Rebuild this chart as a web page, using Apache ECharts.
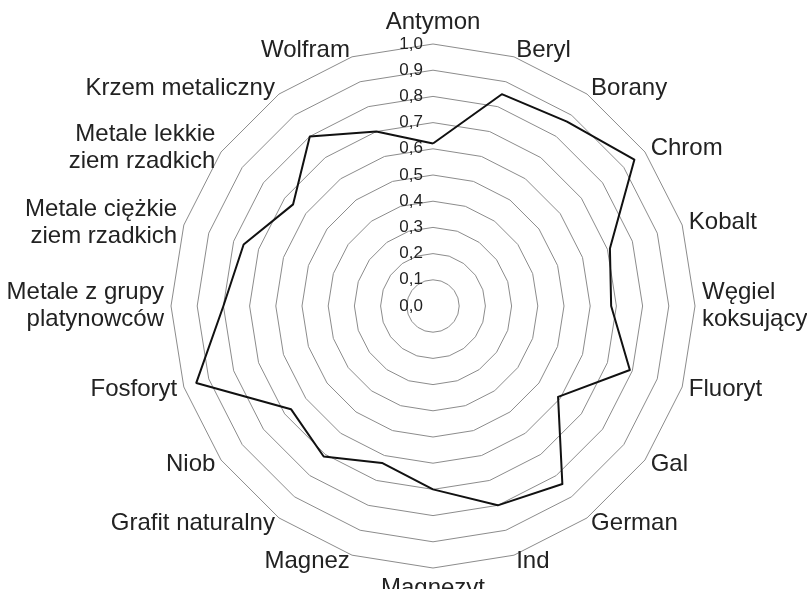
<!DOCTYPE html>
<html>
<head>
<meta charset="utf-8">
<script src="https://cdn.jsdelivr.net/npm/echarts@6/dist/echarts.min.js"></script>
<style>
  html, body { margin: 0; padding: 0; background: #fff; }
  #radar { width: 807px; height: 589px; }
</style>
</head>
<body>
<div id="radar"></div>
<script>
// kategorie w kolejnosci zgodnej z ruchem wskazowek zegara, od gory
var categories = [
    'Antymon', 'Beryl', 'Borany', 'Chrom', 'Kobalt',
    'Węgiel\nkoksujący', 'Fluoryt', 'Gal', 'German', 'Ind',
    'Magnezyt', 'Magnez', 'Grafit naturalny', 'Niob', 'Fosforyt',
    'Metale z grupy\nplatynowców', 'Metale ciężkie\nziem rzadkich',
    'Metale lekkie\nziem rzadkich', 'Krzem metaliczny', 'Wolfram'
];
var values = [
    0.62, 0.85, 0.87, 0.95, 0.71,
    0.68, 0.79, 0.59, 0.84, 0.80,
    0.70, 0.63, 0.71, 0.67, 0.95,
    0.80, 0.76, 0.66, 0.80, 0.70
];
var axisMin = 0;
var axisMax = 1;
var axisSplits = 10;

var FONT = "'Liberation Sans', Arial, sans-serif";

// echarts rysuje radar przeciwnie do ruchu wskazowek - odwracamy reszte
function ccw(arr) {
    return [arr[0]].concat(arr.slice(1).reverse());
}

var indicators = ccw(categories).map(function (name, i) {
    var ind = { name: name, min: axisMin, max: axisMax };
    if (i === 0) {
        ind.axisLabel = { show: true };
    }
    return ind;
});

var option = {
    animation: false,
    backgroundColor: '#fff',
    radar: {
        center: [433, 306],
        radius: 262,
        startAngle: 90,
        shape: 'polygon',
        splitNumber: axisSplits,
        indicator: indicators,
        nameGap: 7,
        axisName: {
            color: '#222',
            fontSize: 24,
            lineHeight: 27,
            fontFamily: FONT
        },
        axisLine: { show: false },
        axisTick: { show: false },
        axisLabel: {
            show: false,
            margin: 10,
            color: '#222',
            fontSize: 17,
            fontFamily: FONT,
            formatter: function (v) {
                return Number(v).toFixed(1).replace('.', ',');
            }
        },
        splitLine: {
            lineStyle: { color: '#8c8c8c', width: 1 }
        },
        splitArea: { show: false }
    },
    series: [
        {
            type: 'radar',
            symbol: 'none',
            lineStyle: { color: '#111', width: 2 },
            data: [
                { value: ccw(values) }
            ]
        }
    ]
};

var myChart = echarts.init(document.getElementById('radar'));
myChart.setOption(option);
</script>
</body>
</html>
